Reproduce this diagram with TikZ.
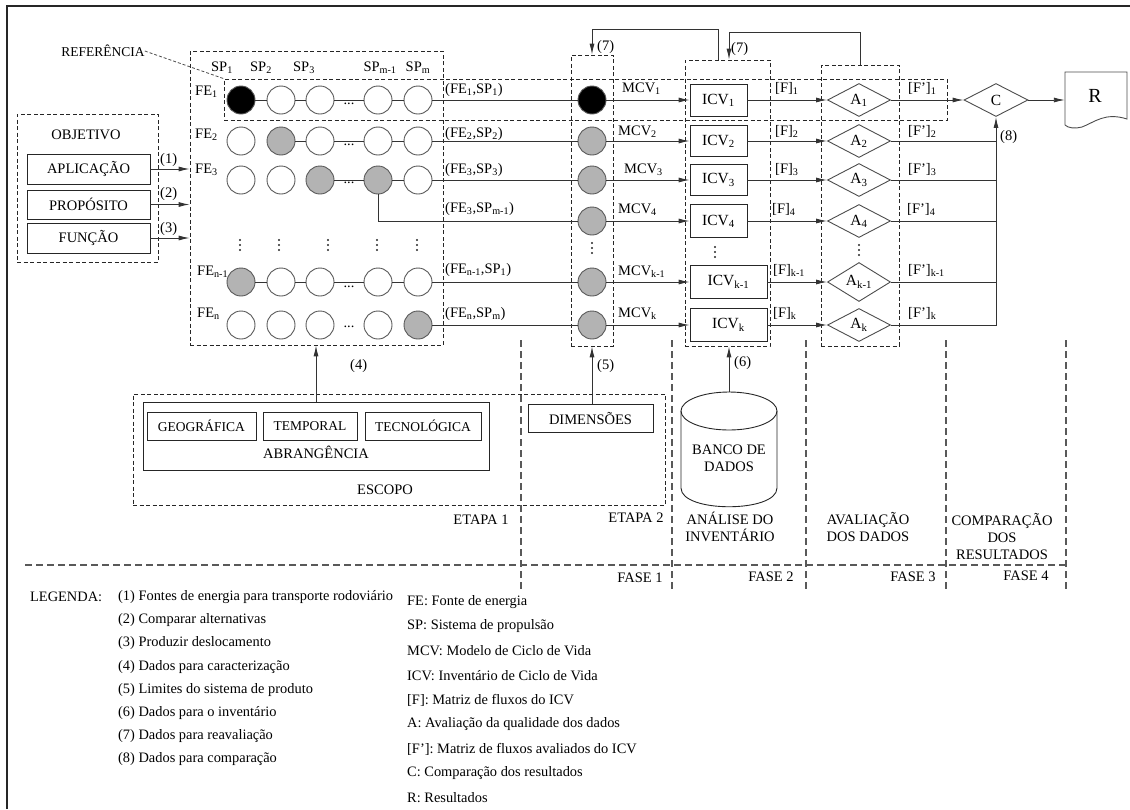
\documentclass[tikz,border=0pt]{standalone}
\usepackage{fontspec}
\setmainfont{Liberation Serif}
\usetikzlibrary{arrows.meta,shapes.geometric}
\definecolor{cg}{HTML}{B3B3B3}
\begin{document}
\begin{tikzpicture}[x=1pt,y=-1pt,
  lbl/.style={font=\fontsize{14.5}{17}\selectfont, inner sep=0pt},
  leg/.style={font=\fontsize{14.4}{17}\selectfont, inner sep=0pt, anchor=west},
  dbox/.style={draw=black!85, line width=0.8pt, dash pattern=on 4pt off 2.5pt, inner sep=0pt},
  sbox/.style={draw=black!85, line width=0.9pt, inner sep=0pt, font=\fontsize{14.5}{17}\selectfont},
  spc/.style={circle, draw=black!65, line width=0.9pt, minimum size=28pt, inner sep=0pt},
  ln/.style={draw=black!80, line width=0.9pt},
  arr/.style={ln, -{Latex[length=11pt,width=5pt]}},
  dia/.style={diamond, draw=black!70, line width=0.9pt, minimum width=63pt, minimum height=33pt, inner sep=0pt, font=\fontsize{15.5}{18}\selectfont},
  phase/.style={draw=black!65, line width=1.1pt, dash pattern=on 7pt off 4pt},
  vdot/.style={circle, fill=black!85, inner sep=0pt, minimum size=2.4pt},
]
\useasboundingbox (0,0) rectangle (1130,809);
% frame
\draw[black!85, line width=2.5pt] (7,809) -- (7,6) -- (1130,6);

% dashed boxes
\node[dbox, minimum width=141pt, minimum height=148pt] (obj) at (87.5,188) {};
\node[dbox, minimum width=253pt, minimum height=294pt] (mat) at (316.5,198) {};
\node[dbox, minimum width=723pt, minimum height=41pt] (refbox) at (585.5,99.5) {};
\node[dbox, minimum width=42pt, minimum height=291pt] (mcvcol) at (592,200.5) {};
\node[dbox, minimum width=85pt, minimum height=286pt] (icvcol) at (727.5,203) {};
\node[dbox, minimum width=78pt, minimum height=281pt] (acol) at (860,205.5) {};
\node[dbox, minimum width=532pt, minimum height=111pt] (esc) at (399,449.5) {};

% objetivo
\node[lbl] (objt) at (86,135) {OBJETIVO};
\node[sbox, minimum width=123pt, minimum height=30pt] (apl) at (88.5,169) {APLICAÇÃO};
\node[sbox, minimum width=123pt, minimum height=29pt] (pro) at (88.5,204.5) {PROPÓSITO};
\node[sbox, minimum width=123pt, minimum height=30pt] (fun) at (88.5,238) {FUNÇÃO};
\draw[arr] (apl.east) -- (apl.east -| mat.west);
\draw[arr] (pro.east) -- (pro.east -| mat.west);
\draw[arr] (fun.east) -- (fun.east -| mat.west);
\node[lbl, anchor=base west] (l1) at (160,163) {(1)};
\node[lbl, anchor=base west] (l2) at (160,197) {(2)};
\node[lbl, anchor=base west] (l3) at (160,232) {(3)};

% referencia
\node[font=\fontsize{13.5}{16}\selectfont, inner sep=0pt] (reft) at (103,51) {REFERÊNCIA};
\draw[draw=black!70, line width=0.8pt, dash pattern=on 3pt off 2pt] (reft.east) -- (refbox.north west);

% SP labels
\node[lbl, anchor=base] (sp1) at (222,71) {SP\textsubscript{1}};
\node[lbl, anchor=base] (sp2) at (261,71) {SP\textsubscript{2}};
\node[lbl, anchor=base] (sp3) at (304,71) {SP\textsubscript{3}};
\node[lbl, anchor=base] (sp4) at (380,71) {SP\textsubscript{m-1}};
\node[lbl, anchor=base] (sp5) at (418,71) {SP\textsubscript{m}};

% FE labels
\node[lbl, anchor=base west] (fe1) at (195,95) {FE\textsubscript{1}};
\node[lbl, anchor=base west] (fe2) at (195,138) {FE\textsubscript{2}};
\node[lbl, anchor=base west] (fe3) at (195,173) {FE\textsubscript{3}};
\node[lbl, anchor=base west] (fe4) at (197,275) {FE\textsubscript{n-1}};
\node[lbl, anchor=base west] (fe5) at (197,317) {FE\textsubscript{n}};

% circles
\foreach \y/\fa/\fb/\fc/\fd/\fe [count=\r] in {100/black/white/white/white/white, 141/white/cg/white/white/white, 180/white/white/cg/cg/white, 282/cg/white/white/white/white, 325/white/white/white/white/cg}
  \foreach \x/\f [count=\c] in {241/\fa,281/\fb,320/\fc,378/\fd,418/\fe}
    \node[spc, fill=\f] (c\r\c) at (\x,\y) {};
\draw[ln] (c11) -- (c12) (c12) -- (c13) (c13) -- (c14) (c14) -- (c15);
\draw[ln] (c22) -- (c23) (c23) -- (c24) (c24) -- (c25);
\draw[ln] (c33) -- (c34) (c34) -- (c35);
\draw[ln] (c41) -- (c42) (c42) -- (c43) (c43) -- (c44) (c44) -- (c45);
\foreach \r/\y in {1/103.5,2/145,3/183,4/287,5/327}
  \node[lbl] (dd\r) at (349,\y) {...};
% vertical ellipses (three dots)
\foreach \x/\y [count=\k] in {240/245,279/245,328/245,377/245,417/245,592/248,715/252,859/250}
  \foreach \d [count=\j] in {-5,0,5}
    \node[vdot] (vd\k\j) at (\x,\y+\d) {};

% MCV circles
\foreach \y/\f [count=\i] in {100/black,141/cg,180/cg,221/cg,282/cg,325/cg}
  \node[spc, fill=\f] (m\i) at (592,\y) {};
\draw[ln] (c15) -- (m1);
\draw[ln] (c25) -- (m2);
\draw[ln] (c35) -- (m3);
\draw[ln] (c34.south) |- (m4);
\draw[ln] (c45) -- (m5);
\draw[ln] (c55) -- (m6);

% row labels
\node[lbl, anchor=base west] (p1) at (445,93) {(FE\textsubscript{1},SP\textsubscript{1})};
\node[lbl, anchor=base west] (p2) at (445,137) {(FE\textsubscript{2},SP\textsubscript{2})};
\node[lbl, anchor=base west] (p3) at (445,173) {(FE\textsubscript{3},SP\textsubscript{3})};
\node[lbl, anchor=base west] (p4) at (445,212) {(FE\textsubscript{3},SP\textsubscript{m-1})};
\node[lbl, anchor=base west] (p5) at (445,273) {(FE\textsubscript{n-1},SP\textsubscript{1})};
\node[lbl, anchor=base west] (p6) at (445,317) {(FE\textsubscript{n},SP\textsubscript{m})};

% ICV boxes
\node[sbox, minimum width=57pt, minimum height=32pt, font=\fontsize{15.5}{18}\selectfont] (i1) at (718.5,100) {ICV\textsubscript{1}};
\node[sbox, minimum width=57pt, minimum height=31pt, font=\fontsize{15.5}{18}\selectfont] (i2) at (718.5,141) {ICV\textsubscript{2}};
\node[sbox, minimum width=57pt, minimum height=31pt, font=\fontsize{15.5}{18}\selectfont] (i3) at (718.5,180) {ICV\textsubscript{3}};
\node[sbox, minimum width=57pt, minimum height=33pt, font=\fontsize{15.5}{18}\selectfont] (i4) at (718.5,221) {ICV\textsubscript{4}};
\node[sbox, minimum width=77pt, minimum height=33pt, font=\fontsize{15.5}{18}\selectfont] (i5) at (728.5,282) {ICV\textsubscript{k-1}};
\node[sbox, minimum width=77pt, minimum height=33pt, font=\fontsize{15.5}{18}\selectfont] (i6) at (728.5,325) {ICV\textsubscript{k}};

% MCV labels
\node[lbl, anchor=base west] (mc1) at (622,92) {MCV\textsubscript{1}};
\node[lbl, anchor=base west] (mc2) at (618,135) {MCV\textsubscript{2}};
\node[lbl, anchor=base west] (mc3) at (624,173) {MCV\textsubscript{3}};
\node[lbl, anchor=base west] (mc4) at (618,213) {MCV\textsubscript{4}};
\node[lbl, anchor=base west] (mc5) at (618,275) {MCV\textsubscript{k-1}};
\node[lbl, anchor=base west] (mc6) at (618,317) {MCV\textsubscript{k}};
\foreach \i in {1,...,6}
  \draw[arr] (m\i) -- (m\i -| i\i.west);

% A diamonds
\foreach \y/\t [count=\i] in {100/1,141/2,180/3,221/4,282/k-1,325/k}
  \node[dia] (a\i) at (859,\y) {A\textsubscript{\t}};
\foreach \i in {1,...,6}
  \draw[arr] (i\i.east) -- (i\i.east -| a\i.west);
\node[lbl, anchor=base west] (f1) at (775,92) {[F]\textsubscript{1}};
\node[lbl, anchor=base west] (f2) at (775,135) {[F]\textsubscript{2}};
\node[lbl, anchor=base west] (f3) at (775,173) {[F]\textsubscript{3}};
\node[lbl, anchor=base west] (f4) at (772,213) {[F]\textsubscript{4}};
\node[lbl, anchor=base west] (f5) at (773,274) {[F]\textsubscript{k-1}};
\node[lbl, anchor=base west] (f6) at (773,317) {[F]\textsubscript{k}};
\node[lbl, anchor=base west] (g1) at (908,92) {[F’]\textsubscript{1}};
\node[lbl, anchor=base west] (g2) at (908,135) {[F’]\textsubscript{2}};
\node[lbl, anchor=base west] (g3) at (908,173) {[F’]\textsubscript{3}};
\node[lbl, anchor=base west] (g4) at (907,213) {[F’]\textsubscript{4}};
\node[lbl, anchor=base west] (g5) at (908,274) {[F’]\textsubscript{k-1}};
\node[lbl, anchor=base west] (g6) at (908,317) {[F’]\textsubscript{k}};

% C and R
\node[dia, minimum width=64pt] (C) at (996,100) {C};
\node[inner sep=0pt, minimum width=62pt, minimum height=56pt] (R) at (1096,100) {};
\draw[draw=black!70, line width=0.9pt] (1065,125) -- (1065,72) -- (1127,72) -- (1127,119)
  .. controls (1105,112) and (1095,122) .. (1082,127) .. controls (1075,129) and (1068,128) .. (1065,125);
\node[font=\fontsize{20}{24}\selectfont, inner sep=0pt] (Rt) at (1095,96) {R};
\draw[arr] (a1) -- (C);
\draw[arr] (C) -- (R);
\foreach \i in {2,...,5}
  \draw[ln] (a\i.east) -- (a\i.east -| C.south);
\draw[arr] (a6.east) -| (C.south);
\node[lbl, anchor=base west] (l8) at (1000,140) {(8)};

% feedback loops (7)
\coordinate (l7a) at (718,29);
\coordinate (l7b) at (729,32);
\draw[arr] (l7a |- icvcol.north) -- (l7a) -| (mcvcol.north);
\draw[arr] (acol.north) |- (l7b) -- (l7b |- icvcol.north);
\node[lbl, anchor=base west] (l7t1) at (597,50) {(7)};
\node[lbl, anchor=base west] (l7t2) at (731,52) {(7)};

% phases
\foreach \x in {521,672,806,946,1066}
  \draw[phase] (\x,340) -- (\x,592);
\draw[phase] (25,565) -- (1066,565);

% escopo
\node[sbox, minimum width=346pt, minimum height=68pt] (abr) at (316,436) {};
\node[sbox, minimum width=109pt, minimum height=28pt, font=\fontsize{13.5}{16}\selectfont] (geo) at (201.5,426) {GEOGRÁFICA};
\node[sbox, minimum width=94pt, minimum height=28pt, font=\fontsize{13.5}{16}\selectfont] (tem) at (310,426) {TEMPORAL};
\node[sbox, minimum width=116pt, minimum height=28pt, font=\fontsize{13.5}{16}\selectfont] (tec) at (423,426) {TECNOLÓGICA};
\node[lbl] (abrt) at (316,452) {ABRANGÊNCIA};
\node[lbl] (esct) at (385,490) {ESCOPO};
\draw[arr] (abr.north) -- (abr.north |- mat.south);
\node[lbl, anchor=base west] (l4) at (350,369) {(4)};
\node[sbox, minimum width=125pt, minimum height=28pt] (dim) at (590.5,418) {DIMENSÕES};
\draw[arr] (dim.north -| mcvcol.south) -- (mcvcol.south);
\node[lbl, anchor=base west] (l5) at (597,369) {(5)};

% database
\node[inner sep=0pt, minimum width=96pt, minimum height=115pt] (db) at (729,449.5) {};
\draw[draw=black!85, line width=0.9pt] (729,411) ellipse [x radius=48, y radius=19];
\draw[draw=black!85, line width=0.9pt] (681,411) -- (681,488) .. controls (681,513) and (777,513) .. (777,488) -- (777,411);
\node[lbl, align=center] (dbt) at (729,458) {BANCO DE\\DADOS};
\draw[arr] (db.north) -- (db.north |- icvcol.south);
\node[lbl, anchor=base west] (l6) at (734,366) {(6)};

% phase titles
\node[lbl] (et1) at (481,520) {ETAPA 1};
\node[lbl] (et2) at (636,518) {ETAPA 2};
\node[lbl, align=center] (ph2t) at (730,527) {ANÁLISE DO\\INVENTÁRIO};
\node[lbl, align=center] (ph3t) at (868,527) {AVALIAÇÃO\\DOS DADOS};
\node[lbl, align=center] (ph4t) at (1002,536) {COMPARAÇÃO\\DOS\\RESULTADOS};
\node[lbl] (fa1) at (640,578) {FASE 1};
\node[lbl] (fa2) at (771,577) {FASE 2};
\node[lbl] (fa3) at (913,577) {FASE 3};
\node[lbl] (fa4) at (1026,576) {FASE 4};

% legend
\node[leg] (legt) at (30,597) {LEGENDA:};
\foreach \t [count=\i from 0] in {(1) Fontes de energia para transporte rodoviário, (2) Comparar alternativas, (3) Produzir deslocamento, (4) Dados para caracterização, (5) Limites do sistema  de produto, (6) Dados para o inventário, (7) Dados para reavaliação, (8) Dados para comparação}
  \node[leg] (lg\i) at (118,597+23.2*\i) {\t};
\foreach \t [count=\i from 0] in {FE: Fonte de energia, SP: Sistema de propulsão, MCV: Modelo de Ciclo de Vida, ICV: Inventário de Ciclo de Vida, {[F]: Matriz de fluxos do ICV}, A: Avaliação da qualidade dos dados, {[F’]: Matriz de fluxos avaliados do ICV}, C: Comparação dos resultados, R: Resultados}
  \node[leg] (lr\i) at (407,602+24.5*\i) {\t};
\end{tikzpicture}
\end{document}
